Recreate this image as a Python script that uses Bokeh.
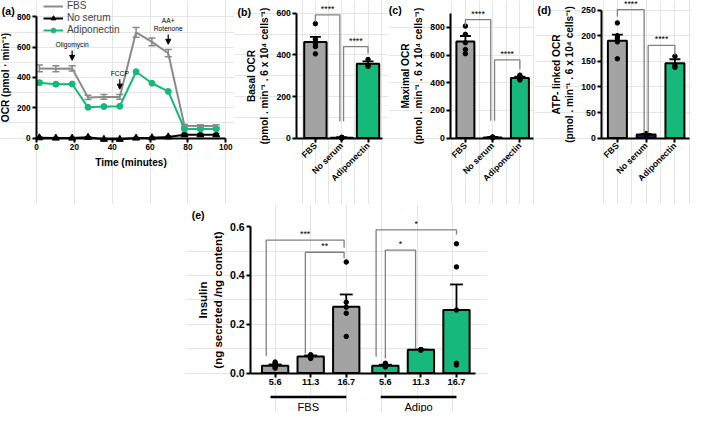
import numpy as np
from bokeh.plotting import figure
from bokeh.models import (Range1d, LinearAxis, FixedTicker, ColumnDataSource, Whisker, TeeHead,
                          Arrow, NormalHead, Legend, LegendItem, Spacer, NumeralTickFormatter)
from bokeh.layouts import row, column
from bokeh.embed import file_html
from bokeh.resources import INLINE
from bokeh.core.properties import value

# ---------------- data ----------------
# (a) OCR time course
time_min = [1.5, 10.2, 18.8, 27.2, 35.6, 44.0, 52.6, 61.0, 69.6, 78.2, 86.6, 95.0]
fbs_ocr = [460, 458, 460, 268, 272, 272, 698, 635, 560, 82, 80, 80]
fbs_sem = [22, 20, 18, 14, 16, 16, 32, 26, 24, 8, 8, 8]
noserum_ocr = [2, 0, 0, 5, -8, -8, 0, 2, 8, 22, 22, 22]
noserum_sem = [4, 4, 4, 4, 4, 4, 4, 4, 4, 10, 8, 8]
adipo_ocr = [366, 356, 357, 203, 208, 210, 438, 362, 308, 60, 60, 60]
adipo_sem = [12, 10, 9, 6, 5, 5, 6, 6, 6, 5, 5, 5]
series_names = ["FBS", "No serum", "Adiponectin"]
injection_labels = ["Oligomycin", "FCCP", "AA+\nRotenone"]
injection_index = [2, 5, 8]

# (b)-(d) bar panels
groups = ["FBS", "No serum", "Adiponectin"]
basal_mean = [462, 2, 357]
basal_sem = [25, 2, 12]
basal_points = [[550, 475, 455, 440, 405], [4, 2, 0, 3, 1], [378, 350, 345]]
maximal_mean = [698, 5, 435]
maximal_sem = [40, 3, 10]
maximal_points = [[810, 750, 690, 640, 610], [8, 5, 2, 6, 4], [455, 430, 420]]
atp_mean = [190, 7, 146]
atp_sem = [12, 1, 8]
atp_points = [[225, 200, 195, 188, 155], [8, 6, 9, 7, 6], [160, 142, 138]]

# (e) insulin secretion
glucose = ["5.6", "11.3", "16.7", "5.6", "11.3", "16.7"]
treatment = ["FBS", "FBS", "FBS", "Adipo", "Adipo", "Adipo"]
insulin_mean = [0.030, 0.068, 0.272, 0.030, 0.095, 0.258]
insulin_sem = [0.005, 0.004, 0.050, 0.004, 0.001, 0.105]
insulin_points = [[0.045, 0.040, 0.030, 0.025, 0.020],
                  [0.075, 0.070, 0.068, 0.065, 0.060],
                  [0.455, 0.290, 0.270, 0.245, 0.150],
                  [0.040, 0.035, 0.030, 0.028, 0.025],
                  [0.096, 0.095, 0.095, 0.094, 0.095],
                  [0.530, 0.435, 0.258, 0.040, 0.033]]

# ---------------- style ----------------
SX, SY = 0.975, 0.962
FONT = "Liberation Sans"
GREY_LINE = "#8a8a8a"
GREY_BAR = "#a3a3a3"
GREEN = "#16b97b"
DARK = "#1c1c55"
BRACKET = "#808080"


def fs(px):
    return f"{px * SY:.1f}px"


class Panel:
    def __init__(self, L, R, T, B, xmap, ymap):
        xv0, xp0, xv1, xp1 = xmap
        yv0, yp0, yv1, yp1 = ymap
        self.kx = (xv1 - xv0) / (xp1 - xp0)
        self.ky = (yv1 - yv0) / (yp1 - yp0)
        self.xv0, self.xp0, self.yv0, self.yp0 = xv0, xp0, yv0, yp0
        w = round((R - L) * SX)
        h = round((B - T) * SY)
        p = figure(width=w, height=h, x_range=Range1d(self.px(L), self.px(R)),
                   y_range=Range1d(self.py(B), self.py(T)), output_backend="svg",
                   toolbar_location=None, tools="", min_border=0,
                   x_axis_location=None, y_axis_location=None)
        p.outline_line_color = None
        p.background_fill_color = "white"
        p.border_fill_color = "white"
        self.fig = p

    def px(self, x):
        return self.xv0 + (x - self.xp0) * self.kx

    def py(self, y):
        return self.yv0 + (y - self.yp0) * self.ky


def style_axis(ax, tick_fs, label_fs):
    ax.axis_line_width = 2
    ax.axis_line_color = "black"
    ax.major_tick_line_width = 2
    ax.major_tick_line_color = "black"
    ax.major_tick_out = 4
    ax.major_tick_in = 0
    ax.minor_tick_line_color = None
    ax.major_label_text_font = FONT
    ax.major_label_text_font_style = "bold"
    ax.major_label_text_font_size = fs(tick_fs)
    ax.major_label_text_color = "black"
    ax.major_label_standoff = 2
    ax.axis_label_text_font = FONT
    ax.axis_label_text_font_style = "bold"
    ax.axis_label_text_font_size = fs(label_fs)
    ax.axis_label_text_color = "black"
    ax.axis_label_standoff = 3
    return ax


def letter(panel, txt, x, y):
    panel.fig.text(x=[panel.px(x)], y=[panel.py(y)], text=[txt], text_font=value(FONT),
                   text_font_style="bold", text_font_size=fs(11), text_align="center",
                   text_baseline="middle", text_color="black")


def brackets(p, items, fsize=9):
    xs, ys, tx, ty, tt = [], [], [], [], []
    for (xl, yl, xr, yr, ytop, lab) in items:
        xs.append([xl, xl, xr, xr])
        ys.append([yl, ytop, ytop, yr])
        tx.append((xl + xr) / 2)
        ty.append(ytop)
        tt.append(lab)
    p.multi_line(xs=xs, ys=ys, line_color=BRACKET, line_width=1.3)
    p.text(x=tx, y=ty, text=tt, text_font=value(FONT), text_font_size=fs(fsize),
           text_align="center", text_baseline="bottom", text_color="black", y_offset=-1)


def whiskers(p, xs, means, sems, color, cap, lw):
    src = ColumnDataSource(dict(x=xs, lo=[m - s for m, s in zip(means, sems)],
                                hi=[m + s for m, s in zip(means, sems)]))
    w = Whisker(source=src, base="x", lower="lo", upper="hi", dimension="height",
                line_color=color, line_width=lw,
                upper_head=TeeHead(size=cap, line_color=color, line_width=lw),
                lower_head=TeeHead(size=cap, line_color=color, line_width=lw))
    p.add_layout(w)


def dots(p, xs, pts, size=4.5):
    px_, py_ = [], []
    for x, vals in zip(xs, pts):
        for v in vals:
            px_.append(x)
            py_.append(v)
    p.scatter(px_, py_, size=size, color="black")


# ---------------- (a) ----------------
pa = Panel(0, 240, 0, 212, (0, 37, 100, 231), (0, 143, 800, 17))
p = pa.fig
xa = style_axis(LinearAxis(fixed_location=0, bounds=(0, 100),
                           ticker=FixedTicker(ticks=[0, 20, 40, 60, 80, 100]),
                           axis_label="Time (minutes)"), 8.5, 10.5)
ya = style_axis(LinearAxis(fixed_location=0, bounds=(0, 800),
                           ticker=FixedTicker(ticks=[0, 200, 400, 600, 800]),
                           axis_label="OCR (pmol · min⁻¹)"), 8.5, 10.5)
p.add_layout(xa, "below")
p.add_layout(ya, "left")

r_ns = p.line(time_min, noserum_ocr, line_color="black", line_width=2)
whiskers(p, time_min, noserum_ocr, noserum_sem, "black", 6, 1.5)
r_ns_m = p.scatter(time_min, noserum_ocr, marker="triangle", size=7, color="black")
r_ad = p.line(time_min, adipo_ocr, line_color=GREEN, line_width=2)
whiskers(p, time_min, adipo_ocr, adipo_sem, GREEN, 6, 1.5)
r_ad_m = p.scatter(time_min, adipo_ocr, marker="circle", size=6, color=GREEN)
r_fb = p.line(time_min, fbs_ocr, line_color=GREY_LINE, line_width=2)
whiskers(p, time_min, fbs_ocr, fbs_sem, GREY_LINE, 7, 1.5)
r_fb_m = p.scatter([], [], marker="dash", angle=np.pi / 2, size=9, line_color=GREY_LINE, line_width=2)

leg = Legend(items=[LegendItem(label=series_names[0], renderers=[r_fb, r_fb_m]),
                    LegendItem(label=series_names[1], renderers=[r_ns, r_ns_m]),
                    LegendItem(label=series_names[2], renderers=[r_ad, r_ad_m])],
             location=(44 * SX, (212 - 37) * SY), orientation="vertical",
             label_text_font=FONT, label_text_font_size=fs(10.5), label_height=12,
             glyph_height=12, glyph_width=20, spacing=0, padding=0, margin=0,
             label_standoff=4, border_line_color=None, background_fill_alpha=0)
p.add_layout(leg)

for lab, i in zip(injection_labels, injection_index):
    t = time_min[i]
    y_end = fbs_ocr[i] + fbs_sem[i] + 35
    y_start = y_end + 65
    p.add_layout(Arrow(end=NormalHead(size=5, fill_color="black", line_color="black", line_width=1),
                       x_start=t, y_start=y_start, x_end=t, y_end=y_end,
                       line_color="black", line_width=1.2))
    p.text(x=[t], y=[y_start + 15], text=[lab], text_font=value(FONT), text_font_size=fs(7),
           text_align="center", text_baseline="bottom", text_color="black")
letter(pa, "(a)", 8, 11)


# ---------------- (b)-(d) ----------------
def bar_panel(L, R, xmap, axis_px, right_px, ymap, ybounds, yticks, means, sems, pts,
              bar_w, br, ylabel, let, let_xy):
    pn = Panel(L, R, 0, 212, xmap, ymap)
    p = pn.fig
    xl, xr = pn.px(axis_px), pn.px(right_px)
    xax = style_axis(LinearAxis(fixed_location=0, bounds=(xl, xr),
                                ticker=FixedTicker(ticks=[1, 2, 3]),
                                major_label_overrides={1: groups[0], 2: groups[1], 3: groups[2]}),
                     9, 10.5)
    xax.major_label_orientation = np.pi / 4
    yax = style_axis(LinearAxis(fixed_location=xl, bounds=ybounds,
                                ticker=FixedTicker(ticks=yticks), axis_label=ylabel), 9, 10.5)
    p.add_layout(xax, "below")
    p.add_layout(yax, "left")
    xs = [1, 2, 3]
    p.vbar(x=xs, top=means, bottom=0, width=bar_w, fill_color=[GREY_BAR, DARK, GREEN],
           line_color="black", line_width=2)
    whiskers(p, xs, means, sems, "black", 11, 1.8)
    dots(p, xs, pts)
    brackets(p, br)
    letter(pn, let, *let_xy)
    return p


pb = bar_panel(240, 398, (1, 323, 2, 350), 304, 392, (0, 143, 600, 13.3), (0, 600),
               [0, 200, 400, 600], basal_mean, basal_sem, basal_points, 0.85,
               [(1, 560, 1.93, 80, 592, "****"), (2.07, 80, 3, 405, 440, "****")],
               "Basal OCR\n(pmol . min⁻¹ . 6 x 10⁴ cells⁻¹)", "(b)", (250, 12))
pc = bar_panel(398, 548, (1, 477, 2, 505), 462, 547, (0, 143, 800, 28), (0, 900),
               [0, 200, 400, 600, 800], maximal_mean, maximal_sem, maximal_points, 0.66,
               [(1, 810, 1.93, 125, 856, "****"), (2.07, 125, 3, 496, 565, "****")],
               "Maximal OCR\n(pmol . min⁻¹ . 6 x 10⁴ cells⁻¹)", "(c)", (405, 10))
pd = bar_panel(548, 709, (1, 633, 2, 662.5), 617, 707, (0, 143, 250, 10), (0, 250),
               [0, 50, 100, 150, 200, 250], atp_mean, atp_sem, atp_points, 0.66,
               [(1, 237, 1.93, 10, 251, "****"), (2.07, 10, 3, 162, 181, "****")],
               "ATP- linked OCR\n(pmol . min⁻¹ . 6 x 10⁴ cells⁻¹)", "(d)", (558, 10))

# ---------------- (e) ----------------
pe = Panel(190, 500, 212, 428, (1, 282, 2, 318.5), (0, 387, 0.6, 235))
p = pe.fig
xpos = [1, 2, 3, 4.1, 5.1, 6.1]
exl, exr = pe.px(257), pe.px(488)
xe = style_axis(LinearAxis(fixed_location=0, bounds=(exl, exr), ticker=FixedTicker(ticks=xpos),
                           major_label_overrides={x: g for x, g in zip(xpos, glucose)}), 9.5, 11)
ye = style_axis(LinearAxis(fixed_location=exl, bounds=(0, 0.6),
                           ticker=FixedTicker(ticks=[0, 0.2, 0.4, 0.6]),
                           formatter=NumeralTickFormatter(format="0.0"),
                           axis_label="Insulin\n(ng secreted /ng content)"), 11, 12)
p.add_layout(xe, "below")
p.add_layout(ye, "left")
p.vbar(x=xpos, top=insulin_mean, bottom=0, width=0.74,
       fill_color=[GREY_BAR if t == "FBS" else GREEN for t in treatment],
       line_color="black", line_width=2)
whiskers(p, xpos, insulin_mean, insulin_sem, "black", 13, 1.8)
dots(p, xpos, insulin_points)
brackets(p, [(0.75, 0.07, 2.94, 0.514, 0.545, "***"),
             (1.85, 0.08, 2.94, 0.47, 0.495, "**"),
             (3.84, 0.067, 6.1, 0.568, 0.587, "*"),
             (4.1, 0.06, 4.95, 0.10, 0.504, "*")])
# group underlines and labels
gx0, gx1, gname = [], [], []
for tname in ["FBS", "Adipo"]:
    idx = [i for i, t in enumerate(treatment) if t == tname]
    gx0.append(xpos[idx[0]] - 0.13)
    gx1.append(xpos[idx[-1]])
    gname.append(tname)
gy = pe.py(412)
p.segment(x0=gx0, y0=[gy] * 2, x1=gx1, y1=[gy] * 2, line_color="black", line_width=2.5)
p.text(x=[(a + b) / 2 for a, b in zip(gx0, gx1)], y=[pe.py(416)] * 2, text=gname,
       text_font=value(FONT), text_font_size=fs(11.5), text_align="center",
       text_baseline="top", text_color="black")
letter(pe, "(e)", 203, 223)

layout = column(row(pa.fig, pb, pc, pd), row(Spacer(width=round(190 * SX), height=208), pe.fig))
open("out.html", "w").write(file_html(layout, INLINE))
